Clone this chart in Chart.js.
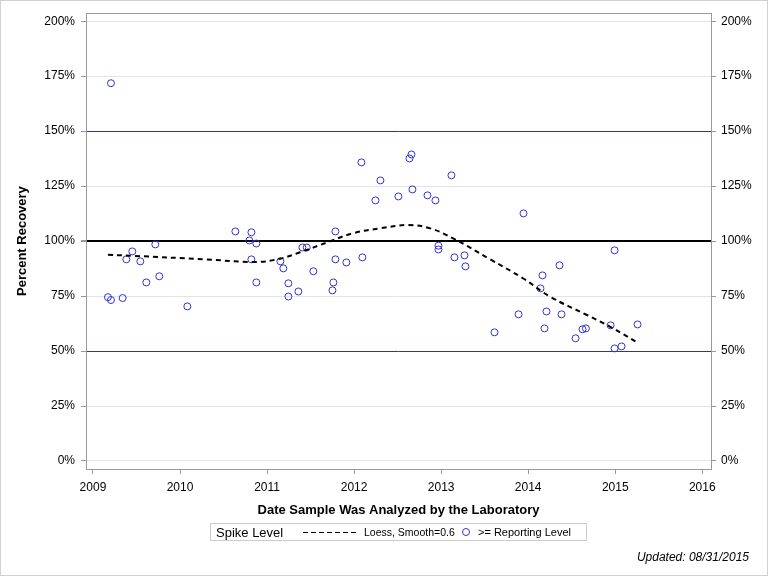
<!DOCTYPE html>
<html>
<head>
<meta charset="utf-8">
<script src="https://cdn.jsdelivr.net/npm/chart.js@4/dist/chart.umd.min.js"></script>
<style>
  html, body { margin: 0; padding: 0; background: #fff; }
  #wrap { position: relative; width: 768px; height: 576px; }
  canvas { display: block; }
</style>
</head>
<body>
<div id="wrap"><canvas id="c" width="768" height="576"></canvas></div>
<script>
// ---- Data ----
const sampleYears = [
  2009.207, 2009.172, 2009.207, 2009.341, 2009.383, 2009.452, 2009.544, 2009.613, 2009.716, 2009.762,
  2010.084, 2010.636, 2010.820, 2010.797, 2010.877, 2010.820, 2010.877, 2011.153, 2011.187, 2011.245,
  2011.245, 2011.360, 2011.406, 2011.456, 2011.532, 2011.751, 2011.762, 2011.785, 2011.785, 2011.911,
  2012.095, 2012.084, 2012.302, 2012.245, 2012.509, 2012.636, 2012.659, 2012.670, 2012.843, 2012.934,
  2013.118, 2012.969, 2012.969, 2013.153, 2013.268, 2013.279, 2013.613, 2013.889, 2013.946, 2014.141,
  2014.164, 2014.187, 2014.210, 2014.360, 2014.383, 2014.544, 2014.624, 2014.663, 2014.946, 2014.992,
  2014.992, 2015.072, 2015.256
];
const percentRecovery = [
  171.8, 74.5, 73.2, 74.1, 91.7, 95.3, 90.8, 81.2, 98.5, 84.0,
  70.3, 104.4, 104.0, 100.3, 98.9, 91.7, 81.2, 90.8, 87.6, 80.8,
  74.8, 77.1, 97.1, 97.1, 86.3, 77.6, 81.2, 104.4, 91.7, 90.3,
  92.6, 135.8, 127.6, 118.5, 120.3, 137.6, 139.4, 123.5, 120.8, 118.5,
  129.9, 97.9, 96.2, 92.6, 93.5, 88.5, 58.5, 66.7, 112.6, 78.5,
  84.4, 60.3, 68.0, 89.0, 66.7, 55.8, 59.9, 60.3, 61.7, 95.8,
  51.2, 52.1, 62.1
];
const loessYears  = [2009.172, 2009.456, 2010.299, 2010.870, 2011.149, 2011.379, 2011.724, 2011.989, 2012.299, 2012.621, 2012.874, 2013.138, 2013.563, 2013.943, 2014.253, 2014.675, 2014.943, 2015.250];
const loessValues = [93.8, 93.3, 91.7, 90.5, 92.0, 94.9, 99.9, 103.6, 105.8, 107.3, 105.8, 101.2, 91.7, 83.0, 74.7, 66.4, 61.0, 54.0];
const yTickValues = [0, 25, 50, 75, 100, 125, 150, 175, 200];
const xTickValues = [2009, 2010, 2011, 2012, 2013, 2014, 2015, 2016];

// ---- Build datasets from arrays ----
const scatterPts = sampleYears.map((x, i) => ({ x: x, y: percentRecovery[i] }));
const loessPts = loessYears.map((x, i) => ({ x: x, y: loessValues[i] }));

const FONT = "'Liberation Sans', Arial, Helvetica, sans-serif";
const MARK = '#3333cc';

function gridColor(v) {
  if (v === 100) return '#000000';
  if (v === 50 || v === 150) return '#333399';
  return '#e3e3e3';
}

const decor = {
  id: 'decor',
  afterDraw(chart) {
    const ctx = chart.ctx;
    const a = chart.chartArea;
    ctx.save();
    // plot frame
    ctx.strokeStyle = '#999999';
    ctx.lineWidth = 1;
    ctx.strokeRect(Math.round(a.left) + 0.5, Math.round(a.top) + 0.5, Math.round(a.right - a.left), Math.round(a.bottom - a.top));
    // outer border
    ctx.strokeStyle = '#d0d0d0';
    ctx.strokeRect(0.5, 0.5, 767, 575);
    ctx.fillStyle = '#000';
    // y title
    ctx.save();
    ctx.translate(26, (a.top + a.bottom) / 2);
    ctx.rotate(-Math.PI / 2);
    ctx.font = 'bold 13px ' + FONT;
    ctx.textAlign = 'center';
    ctx.textBaseline = 'alphabetic';
    ctx.fillText('Percent Recovery', 0, 0);
    ctx.restore();
    // x title
    ctx.font = 'bold 13px ' + FONT;
    ctx.textAlign = 'center';
    ctx.textBaseline = 'alphabetic';
    ctx.fillText('Date Sample Was Analyzed by the Laboratory', (a.left + a.right) / 2, 514);
    // legend box
    ctx.strokeStyle = '#cccccc';
    ctx.strokeRect(210.5, 523.5, 376, 17);
    ctx.textAlign = 'left';
    ctx.font = '13px ' + FONT;
    ctx.fillText('Spike Level', 216, 537);
    ctx.strokeStyle = '#000';
    ctx.setLineDash([5, 3]);
    ctx.beginPath();
    ctx.moveTo(303, 532.5);
    ctx.lineTo(357, 532.5);
    ctx.stroke();
    ctx.setLineDash([]);
    ctx.font = '10.5px ' + FONT;
    ctx.fillText('Loess, Smooth=0.6', 364, 536);
    ctx.strokeStyle = MARK;
    ctx.beginPath();
    ctx.arc(466, 532, 3.5, 0, Math.PI * 2);
    ctx.stroke();
    ctx.font = '11px ' + FONT;
    ctx.fillText('>= Reporting Level', 478, 536);
    // footnote
    ctx.font = 'italic 12px ' + FONT;
    ctx.textAlign = 'right';
    ctx.fillText('Updated: 08/31/2015', 749, 561);
    ctx.restore();
  }
};

new Chart(document.getElementById('c'), {
  type: 'scatter',
  data: {
    datasets: [
      {
        type: 'line',
        label: 'Loess, Smooth=0.6',
        data: loessPts,
        borderColor: '#000',
        borderWidth: 2,
        borderDash: [5, 4],
        pointRadius: 0,
        fill: false,
        tension: 0.4,
        order: 1
      },
      {
        label: '>= Reporting Level',
        data: scatterPts,
        pointStyle: 'circle',
        pointRadius: 3.5,
        pointHoverRadius: 3.5,
        borderWidth: 1,
        borderColor: MARK,
        backgroundColor: 'rgba(0,0,0,0)',
        order: 2
      }
    ]
  },
  options: {
    responsive: false,
    animation: false,
    devicePixelRatio: 1,
    layout: { padding: { top: 13, left: 0, right: 0, bottom: 0 } },
    plugins: { legend: { display: false }, tooltip: { enabled: false } },
    scales: {
      x: {
        type: 'linear',
        position: 'bottom',
        min: 2008.92,
        max: 2016.10,
        afterBuildTicks: s => { s.ticks = xTickValues.map(v => ({ value: v })); },
        afterFit: s => { s.height = 107; },
        ticks: { font: { family: FONT, size: 12 }, color: '#000', padding: 6, maxRotation: 0, callback: v => String(v) },
        grid: { drawOnChartArea: false, drawTicks: true, tickLength: 5, color: '#999999', tickColor: '#999999' },
        border: { display: false }
      },
      y: {
        type: 'linear',
        position: 'left',
        min: -3.64,
        max: 203.64,
        afterBuildTicks: s => { s.ticks = yTickValues.map(v => ({ value: v })); },
        afterFit: s => { s.width = 86; },
        ticks: { font: { family: FONT, size: 12 }, color: '#000', padding: 6, callback: v => v + '%' },
        grid: {
          drawOnChartArea: true,
          tickLength: 5,
          color: c => gridColor(c.tick ? c.tick.value : null),
          lineWidth: c => (c.tick && c.tick.value === 100 ? 2 : 1),
          tickColor: '#999999'
        },
        border: { display: false }
      },
      y2: {
        type: 'linear',
        position: 'right',
        min: -3.64,
        max: 203.64,
        afterBuildTicks: s => { s.ticks = yTickValues.map(v => ({ value: v })); },
        afterFit: s => { s.width = 57; },
        ticks: { font: { family: FONT, size: 12 }, color: '#000', padding: 5, callback: v => v + '%' },
        grid: { drawOnChartArea: false, tickLength: 5, color: '#999999', tickColor: '#999999' },
        border: { display: false }
      }
    }
  },
  plugins: [decor]
});
</script>
</body>
</html>
